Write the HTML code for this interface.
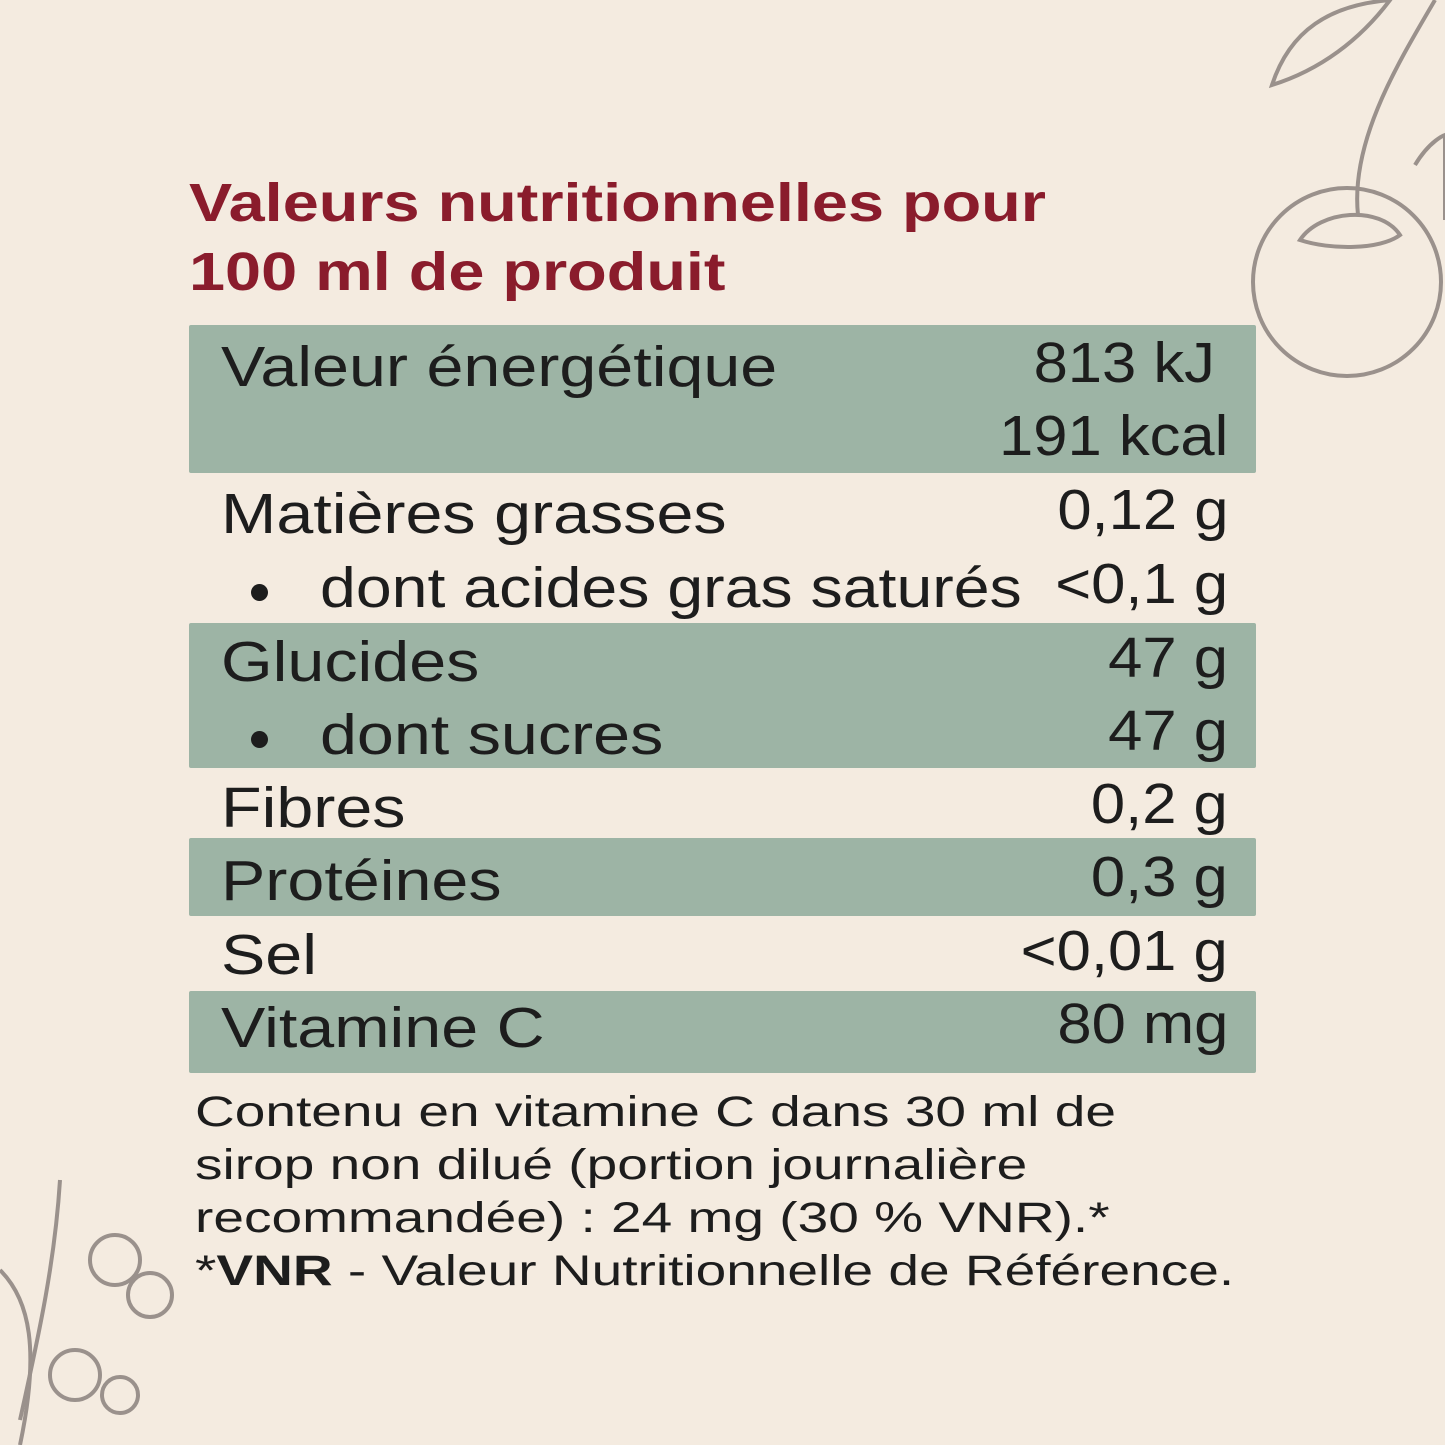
<!DOCTYPE html>
<html><head><meta charset="utf-8">
<style>
html,body{margin:0;padding:0}
body{width:1445px;height:1445px;background:#f4ebe0;position:relative;overflow:hidden;font-family:"Liberation Sans",sans-serif;color:#1d1d1d}
.t{position:absolute;white-space:nowrap;line-height:1}
.title{color:#8a1c2c;font-weight:bold;font-size:54px;left:189px;transform:scaleX(1.2);transform-origin:left}
.row{position:absolute;left:189px;width:1067px;background:#9db4a5;border-radius:2px}
.l{font-size:57px;left:221px;transform:scaleX(1.165);transform-origin:left}
.r{font-size:57px;right:217px;transform:scaleX(1.08);transform-origin:right}
.f{font-size:43px;left:195px;transform:scaleX(1.28);transform-origin:left}
.dot{position:absolute;width:17px;height:17px;border-radius:50%;background:#1d1d1d;left:251px}
</style></head><body>
<svg style="position:absolute;left:0;top:0" width="1445" height="1445">
 <g fill="none" stroke="#9a918c" stroke-width="4">
  <path d="M1358 215 C1350 140 1400 60 1435 0"/>
  <path d="M1272 85 C1290 30 1330 5 1390 0 C1360 40 1320 70 1272 85Z"/>
  <circle cx="1347" cy="282" r="94"/>
  <path d="M1300 240 C1320 210 1380 205 1400 235 C1380 250 1330 250 1300 240Z"/>
  <path d="M1415 165 C1430 140 1445 135 1445 135 L1445 220"/>
  <path d="M0 1270 C30 1300 40 1350 20 1445"/>
  <path d="M60 1180 C55 1260 40 1330 20 1420"/>
  <circle cx="115" cy="1260" r="25"/><circle cx="150" cy="1295" r="22"/>
  <circle cx="75" cy="1375" r="25"/><circle cx="120" cy="1395" r="18"/>
 </g>
</svg>
<div class="t title" style="top:176px">Valeurs nutritionnelles pour</div>
<div class="t title" style="top:245px">100 ml de produit</div>

<div class="row" style="top:325px;height:148px"></div>
<div class="row" style="top:623px;height:145px"></div>
<div class="row" style="top:838px;height:78px"></div>
<div class="row" style="top:991px;height:82px"></div>

<div class="t l" style="top:339px">Valeur énergétique</div>
<div class="t r" style="top:335px;right:230px">813 kJ</div>
<div class="t r" style="top:408px">191 kcal</div>

<div class="t l" style="top:486px">Matières grasses</div>
<div class="t r" style="top:482px">0,12 g</div>
<div class="dot" style="top:584px"></div>
<div class="t l" style="top:560px;left:320px;transform:scaleX(1.13)">dont acides gras saturés</div>
<div class="t r" style="top:556px">&lt;0,1 g</div>

<div class="t l" style="top:634px">Glucides</div>
<div class="t r" style="top:630px">47 g</div>
<div class="dot" style="top:731px"></div>
<div class="t l" style="top:707px;left:320px">dont sucres</div>
<div class="t r" style="top:703px">47 g</div>

<div class="t l" style="top:780px">Fibres</div>
<div class="t r" style="top:776px">0,2 g</div>
<div class="t l" style="top:853px">Protéines</div>
<div class="t r" style="top:849px">0,3 g</div>
<div class="t l" style="top:927px">Sel</div>
<div class="t r" style="top:923px">&lt;0,01 g</div>
<div class="t l" style="top:1000px">Vitamine C</div>
<div class="t r" style="top:996px">80 mg</div>

<div class="t f" style="top:1091px">Contenu en vitamine C dans 30 ml de</div>
<div class="t f" style="top:1144px">sirop non dilué (portion journalière</div>
<div class="t f" style="top:1197px">recommandée) : 24 mg (30 % VNR).*</div>
<div class="t f" style="top:1250px">*<b>VNR</b> - Valeur Nutritionnelle de Référence.</div>
</body></html>
